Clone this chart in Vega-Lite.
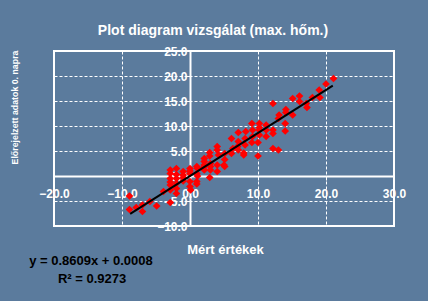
{
  "$schema": "https://vega.github.io/schema/vega-lite/v6.json",
  "width": 340,
  "height": 175,
  "autosize": {"type": "none"},
  "padding": {"left": 54, "top": 51, "right": 34, "bottom": 75},
  "background": "#5B7B9D",
  "title": {"text": "Plot diagram vizsgálat (max. hőm.)", "color": "white", "font": "Liberation Sans", "fontSize": 14, "fontWeight": "bold", "anchor": "middle", "dx": -11, "offset": 7},
  "config": {
    "view": {"stroke": "white", "strokeWidth": 2},
    "axis": {
      "domainColor": "white", "domainWidth": 2, "tickColor": "white", "tickSize": 4, "tickWidth": 1,
      "labelColor": "white", "labelFont": "Liberation Sans", "labelFontSize": 12, "labelFontWeight": "bold",
      "labelFlush": false, "labelOverlap": false,
      "grid": true, "gridColor": "white", "gridDash": [3, 2], "gridWidth": 1, "gridOpacity": 1,
      "titleColor": "white", "titleFont": "Liberation Sans", "titleFontWeight": "bold", "titleAlign": "center", "titleBaseline": "middle"
    },
    "axisX": {"tickCount": 5, "labelPadding": 8, "titleFontSize": 13, "titleX": 171, "titleY": 73},
    "axisY": {"tickCount": 8, "labelPadding": -1, "labelBaseline": "middle", "titleFontSize": 8.8, "titleX": -176, "titleY": 56, "titleAngle": -90}
  },
  "datasets": {
    "points": [
      {"x": -8.9, "y": -6.7}, {"x": -8.9, "y": -4.0}, {"x": -7.9, "y": -6.3}, {"x": -7.0, "y": -5.8}, {"x": -7.0, "y": -7.1},
      {"x": -5.9, "y": -5.1}, {"x": -4.9, "y": -6.0}, {"x": -3.9, "y": -3.1},
      {"x": -2.9, "y": 1.2}, {"x": -2.9, "y": 0.5}, {"x": -2.9, "y": -0.5}, {"x": -2.9, "y": -1.2}, {"x": -2.9, "y": -1.8}, {"x": -2.9, "y": -2.8}, {"x": -2.9, "y": -5.3},
      {"x": -2.0, "y": 1.5}, {"x": -2.0, "y": 0.3}, {"x": -2.0, "y": -0.5}, {"x": -2.0, "y": -1.5}, {"x": -2.0, "y": -2.5}, {"x": -2.0, "y": -3.5},
      {"x": -1.0, "y": 0.9}, {"x": -1.0, "y": 0.2}, {"x": -1.0, "y": -0.3}, {"x": -1.0, "y": -1.0},
      {"x": 0.0, "y": 1.5}, {"x": 0.0, "y": 1.0}, {"x": 0.0, "y": 0.5}, {"x": 0.0, "y": -1.1}, {"x": 0.0, "y": -2.1}, {"x": 0.1, "y": -2.8},
      {"x": 1.0, "y": 1.9}, {"x": 1.1, "y": 1.5}, {"x": 1.0, "y": 0.5}, {"x": 1.1, "y": 0.0}, {"x": 1.0, "y": -1.1}, {"x": 1.0, "y": -1.6},
      {"x": 2.1, "y": 3.5}, {"x": 2.1, "y": 2.9}, {"x": 2.1, "y": 2.2}, {"x": 2.0, "y": 1.7}, {"x": 2.1, "y": 1.2},
      {"x": 2.9, "y": 4.7}, {"x": 2.9, "y": 4.0}, {"x": 3.0, "y": 2.5}, {"x": 3.0, "y": 1.9}, {"x": 3.0, "y": 1.2}, {"x": 2.9, "y": -0.3},
      {"x": 4.0, "y": 5.9}, {"x": 4.0, "y": 5.2}, {"x": 4.2, "y": 4.2}, {"x": 4.0, "y": 2.2}, {"x": 4.0, "y": 0.9},
      {"x": 5.1, "y": 4.5}, {"x": 5.1, "y": 3.3}, {"x": 5.0, "y": 2.2}, {"x": 5.1, "y": 1.9},
      {"x": 6.1, "y": 7.5}, {"x": 6.3, "y": 5.5}, {"x": 6.1, "y": 4.5},
      {"x": 7.1, "y": 8.7}, {"x": 7.1, "y": 6.9}, {"x": 7.1, "y": 5.2}, {"x": 7.0, "y": 5.9},
      {"x": 8.2, "y": 8.9}, {"x": 8.1, "y": 7.5}, {"x": 8.1, "y": 6.2}, {"x": 7.9, "y": 4.2}, {"x": 7.9, "y": 4.6},
      {"x": 9.1, "y": 10.5}, {"x": 9.2, "y": 9.2}, {"x": 9.2, "y": 7.9}, {"x": 9.1, "y": 6.7},
      {"x": 10.2, "y": 10.5}, {"x": 10.2, "y": 9.7}, {"x": 10.2, "y": 9.2}, {"x": 10.2, "y": 8.2}, {"x": 10.0, "y": 6.7}, {"x": 10.0, "y": 4.0},
      {"x": 11.2, "y": 10.2}, {"x": 11.2, "y": 9.2}, {"x": 11.2, "y": 7.9},
      {"x": 12.2, "y": 14.5}, {"x": 12.2, "y": 9.2}, {"x": 12.2, "y": 8.5}, {"x": 12.2, "y": 5.5},
      {"x": 13.1, "y": 12.2}, {"x": 13.0, "y": 11.5}, {"x": 13.0, "y": 5.2},
      {"x": 14.1, "y": 13.3}, {"x": 14.1, "y": 12.7}, {"x": 14.0, "y": 10.5}, {"x": 14.0, "y": 9.0},
      {"x": 15.1, "y": 15.5}, {"x": 15.1, "y": 12.2},
      {"x": 16.1, "y": 16.0}, {"x": 16.1, "y": 14.9},
      {"x": 17.1, "y": 14.5}, {"x": 17.2, "y": 13.7},
      {"x": 18.0, "y": 15.7},
      {"x": 19.0, "y": 17.2}, {"x": 19.1, "y": 15.7},
      {"x": 20.0, "y": 18.4},
      {"x": 21.1, "y": 19.5}
    ],
    "fit": [{"x": -8.8, "y": -7.575}, {"x": 21.0, "y": 18.08}],
    "eq1": [{"label": "y = 0.8609x + 0.0008"}],
    "eq2": [{"label": "R² = 0.9273"}]
  },
  "layer": [
    {
      "data": {"name": "points"},
      "mark": {"type": "point", "shape": "diamond", "filled": true, "color": "#FF0000", "size": 60, "opacity": 1, "strokeWidth": 0},
      "encoding": {
        "x": {"field": "x", "type": "quantitative", "title": "Mért értékek", "scale": {"domain": [-20, 30], "nice": false, "zero": false}, "axis": {"format": ".1f", "offset": -50}},
        "y": {"field": "y", "type": "quantitative", "title": "Előrejelzett adatok 0. napra", "scale": {"domain": [-10, 25], "nice": false, "zero": false}, "axis": {"format": ".1f", "offset": -136}}
      }
    },
    {
      "data": {"name": "fit"},
      "mark": {"type": "line", "color": "black", "strokeWidth": 2},
      "encoding": {
        "x": {"field": "x", "type": "quantitative", "title": "Mért értékek", "scale": {"domain": [-20, 30], "nice": false, "zero": false}, "axis": {"format": ".1f", "offset": -50}},
        "y": {"field": "y", "type": "quantitative", "title": "Előrejelzett adatok 0. napra", "scale": {"domain": [-10, 25], "nice": false, "zero": false}, "axis": {"format": ".1f", "offset": -136}}
      }
    },
    {
      "data": {"name": "eq1"},
      "mark": {"type": "text", "color": "black", "font": "Liberation Sans", "fontSize": 13, "fontWeight": "bold", "align": "center", "baseline": "middle", "clip": false},
      "encoding": {
        "x": {"datum": -14.56, "type": "quantitative", "title": "Mért értékek", "scale": {"domain": [-20, 30], "nice": false, "zero": false}, "axis": {"format": ".1f", "offset": -50}},
        "y": {"datum": -17.0, "type": "quantitative", "title": "Előrejelzett adatok 0. napra", "scale": {"domain": [-10, 25], "nice": false, "zero": false}, "axis": {"format": ".1f", "offset": -136}},
        "text": {"field": "label", "type": "nominal"}
      }
    },
    {
      "data": {"name": "eq2"},
      "mark": {"type": "text", "color": "black", "font": "Liberation Sans", "fontSize": 13, "fontWeight": "bold", "align": "center", "baseline": "middle", "clip": false},
      "encoding": {
        "x": {"datum": -14.4, "type": "quantitative", "title": "Mért értékek", "scale": {"domain": [-20, 30], "nice": false, "zero": false}, "axis": {"format": ".1f", "offset": -50}},
        "y": {"datum": -20.6, "type": "quantitative", "title": "Előrejelzett adatok 0. napra", "scale": {"domain": [-10, 25], "nice": false, "zero": false}, "axis": {"format": ".1f", "offset": -136}},
        "text": {"field": "label", "type": "nominal"}
      }
    }
  ]
}
